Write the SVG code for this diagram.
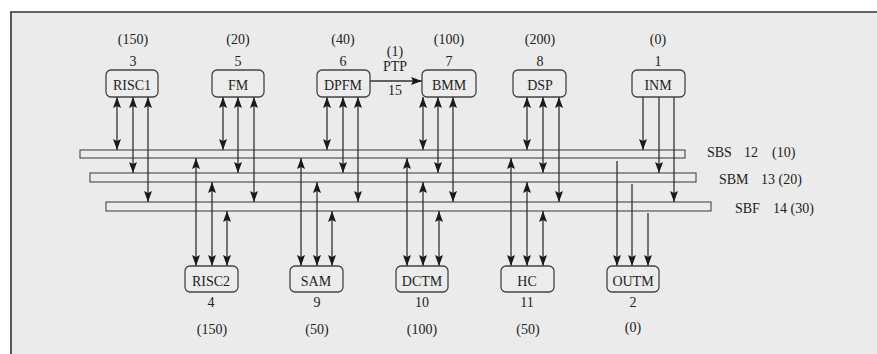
<svg xmlns="http://www.w3.org/2000/svg" width="877" height="354" viewBox="0 0 877 354">
<defs>
<marker id="ah" markerWidth="11" markerHeight="8" refX="11" refY="4" orient="auto-start-reverse" markerUnits="userSpaceOnUse">
<path d="M0,0 L11,4 L0,8 L2,4 z" fill="#1a1a1a"/>
</marker>
<style>
text{font-family:"Liberation Serif","Times New Roman",serif;font-size:14px;fill:#222}
.c{text-anchor:middle}
.box{fill:#ececec;stroke:#444;stroke-width:1.3}
.bus{fill:#ececec;stroke:#555;stroke-width:1.2}
.b{stroke:#333;stroke-width:1.3;fill:none;marker-start:url(#ah);marker-end:url(#ah)}
.u{stroke:#333;stroke-width:1.3;fill:none;marker-end:url(#ah)}
</style>
</defs>
<rect x="0" y="0" width="877" height="354" fill="#ffffff"/>
<rect x="11" y="12" width="870" height="350" fill="#ebebeb"/>
<path d="M11,354 L11,12 L877,12" fill="none" stroke="#333" stroke-width="1.6"/>

<g id="buses">
<rect class="bus" x="80" y="150" width="605" height="8"/>
<rect class="bus" x="90" y="173" width="606" height="9"/>
<rect class="bus" x="106" y="202" width="605" height="9"/>
<text x="707" y="157">SBS</text><text x="744" y="157">12</text><text x="772" y="157">(10)</text>
<text x="719" y="184">SBM</text><text x="761" y="184">13 (20)</text>
<text x="735" y="213">SBF</text><text x="773" y="213">14 (30)</text>
</g>

<g id="connectors">
<line class="b" x1="117" y1="97" x2="117" y2="150"/><line class="b" x1="133" y1="97" x2="133" y2="173"/><line class="b" x1="148" y1="97" x2="148" y2="202"/>
<line class="b" x1="223" y1="97" x2="223" y2="150"/><line class="b" x1="238" y1="97" x2="238" y2="173"/><line class="b" x1="254" y1="97" x2="254" y2="202"/>
<line class="b" x1="327" y1="97" x2="327" y2="150"/><line class="b" x1="343" y1="97" x2="343" y2="173"/><line class="b" x1="358" y1="97" x2="358" y2="202"/>
<line class="b" x1="423" y1="97" x2="423" y2="150"/><line class="b" x1="438" y1="97" x2="438" y2="173"/><line class="b" x1="453" y1="97" x2="453" y2="202"/>
<line class="b" x1="527" y1="97" x2="527" y2="150"/><line class="b" x1="543" y1="97" x2="543" y2="173"/><line class="b" x1="559" y1="97" x2="559" y2="202"/>
<line class="u" x1="643" y1="97" x2="643" y2="150"/><line class="u" x1="659" y1="97" x2="659" y2="173"/><line class="u" x1="674" y1="97" x2="674" y2="202"/>
<line class="b" x1="196" y1="158" x2="196" y2="266"/><line class="b" x1="212" y1="182" x2="212" y2="266"/><line class="b" x1="227" y1="211" x2="227" y2="266"/>
<line class="b" x1="301" y1="158" x2="301" y2="266"/><line class="b" x1="317" y1="182" x2="317" y2="266"/><line class="b" x1="332" y1="211" x2="332" y2="266"/>
<line class="b" x1="407" y1="158" x2="407" y2="266"/><line class="b" x1="423" y1="182" x2="423" y2="266"/><line class="b" x1="439" y1="211" x2="439" y2="266"/>
<line class="b" x1="511" y1="158" x2="511" y2="266"/><line class="b" x1="527" y1="182" x2="527" y2="266"/><line class="b" x1="543" y1="211" x2="543" y2="266"/>
<line class="u" x1="617" y1="161" x2="617" y2="266"/><line class="u" x1="632" y1="184" x2="632" y2="266"/><line class="u" x1="648" y1="213" x2="648" y2="266"/>
<line class="u" x1="370" y1="81" x2="422" y2="81"/>
<text class="c" x="395" y="56">(1)</text>
<text class="c" x="395" y="71">PTP</text>
<text class="c" x="395" y="95">15</text>
</g>

<g id="RISC1"><rect class="box" x="106" y="70" width="52" height="27" rx="5"/><text class="c" x="132" y="90">RISC1</text><text class="c" x="133" y="44">(150)</text><text class="c" x="133" y="66">3</text></g>
<g id="FM"><rect class="box" x="212" y="70" width="52" height="27" rx="5"/><text class="c" x="238" y="90">FM</text><text class="c" x="238" y="44">(20)</text><text class="c" x="238" y="66">5</text></g>
<g id="DPFM"><rect class="box" x="317" y="70" width="53" height="27" rx="5"/><text class="c" x="343" y="90">DPFM</text><text class="c" x="343" y="44">(40)</text><text class="c" x="343" y="66">6</text></g>
<g id="BMM"><rect class="box" x="422" y="70" width="54" height="27" rx="5"/><text class="c" x="449" y="90">BMM</text><text class="c" x="449" y="44">(100)</text><text class="c" x="449" y="66">7</text></g>
<g id="DSP"><rect class="box" x="513" y="70" width="53" height="27" rx="5"/><text class="c" x="540" y="90">DSP</text><text class="c" x="540" y="44">(200)</text><text class="c" x="540" y="66">8</text></g>
<g id="INM"><rect class="box" x="632" y="70" width="53" height="27" rx="5"/><text class="c" x="658" y="90">INM</text><text class="c" x="658" y="44">(0)</text><text class="c" x="658" y="66">1</text></g>

<g id="RISC2"><rect class="box" x="185" y="266" width="53" height="26" rx="5"/><text class="c" x="211" y="286">RISC2</text><text class="c" x="211" y="307">4</text><text class="c" x="212" y="334">(150)</text></g>
<g id="SAM"><rect class="box" x="290" y="266" width="53" height="26" rx="5"/><text class="c" x="316" y="286">SAM</text><text class="c" x="317" y="307">9</text><text class="c" x="317" y="334">(50)</text></g>
<g id="DCTM"><rect class="box" x="396" y="266" width="52" height="26" rx="5"/><text class="c" x="422" y="286">DCTM</text><text class="c" x="422" y="307">10</text><text class="c" x="422" y="334">(100)</text></g>
<g id="HC"><rect class="box" x="501" y="266" width="53" height="26" rx="5"/><text class="c" x="527" y="286">HC</text><text class="c" x="527" y="307">11</text><text class="c" x="528" y="334">(50)</text></g>
<g id="OUTM"><rect class="box" x="607" y="266" width="52" height="26" rx="5"/><text class="c" x="633" y="286">OUTM</text><text class="c" x="633" y="307">2</text><text class="c" x="633" y="332">(0)</text></g>
</svg>
